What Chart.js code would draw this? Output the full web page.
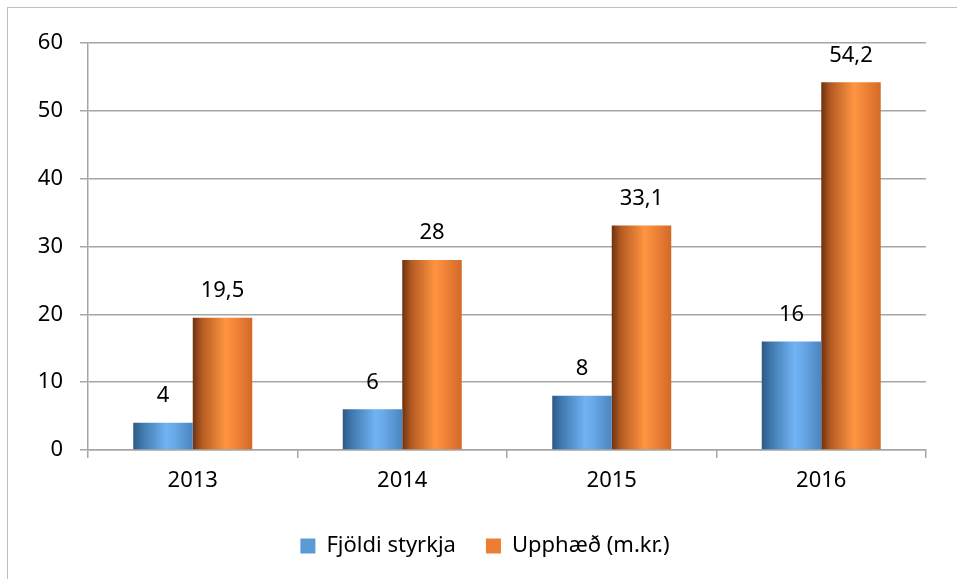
<!DOCTYPE html>
<html>
<head>
<meta charset="utf-8">
<script src="https://cdn.jsdelivr.net/npm/chart.js@4.4.1/dist/chart.umd.min.js"></script>
<style>
    html, body { margin: 0; padding: 0; background: #fff; }
    #wrap { width: 957px; height: 579px; position: relative; }
</style>
</head>
<body>
<div id="wrap"><canvas id="chart"></canvas></div>
<script>
const years = ['2013', '2014', '2015', '2016'];
const fjoldi = [4, 6, 8, 16];
const upphaed = [19.5, 28, 33.1, 54.2];
const yTicks = [0, 10, 20, 30, 40, 50, 60];

const fontFamily = '"Noto Sans", sans-serif';
const gridColor = '#a6a6a6';

// gradient stops for the "cylinder" look of the bars
const shades = [
    ['#2b5985', '#4078ae', '#70b3f3', '#68a8e6', '#4a85bf'],
    ['#6e3110', '#b35a22', '#ff9441', '#f2863a', '#d26a27']
];

const barShading = {
    id: 'barShading',
    beforeDatasetsDraw(chart) {
        const ctx = chart.ctx;
        chart.data.datasets.forEach((ds, di) => {
            const meta = chart.getDatasetMeta(di);
            meta.data.forEach(bar => {
                const x0 = bar.x - bar.width / 2;
                const g = ctx.createLinearGradient(x0, 0, x0 + bar.width, 0);
                const s = shades[di];
                g.addColorStop(0, s[0]);
                g.addColorStop(0.15, s[1]);
                g.addColorStop(0.55, s[2]);
                g.addColorStop(0.7, s[3]);
                g.addColorStop(1, s[4]);
                // options are shared between bars, so give each bar its own copy
                bar.options = Object.assign({}, bar.options, { backgroundColor: g });
            });
        });
    }
};

const valueLabels = {
    id: 'valueLabels',
    afterDatasetsDraw(chart) {
        const ctx = chart.ctx;
        ctx.save();
        ctx.font = '22px ' + fontFamily;
        ctx.fillStyle = '#000';
        ctx.textAlign = 'center';
        ctx.textBaseline = 'middle';
        chart.data.datasets.forEach((ds, di) => {
            chart.getDatasetMeta(di).data.forEach((bar, i) => {
                const txt = String(ds.data[i]).replace('.', ',');
                ctx.fillText(txt, bar.x, bar.y - 27);
            });
        });
        ctx.restore();
    }
};

const frame = {
    id: 'frame',
    beforeDraw(chart) {
        const ctx = chart.ctx;
        ctx.save();
        ctx.strokeStyle = '#bfbfbf';
        ctx.lineWidth = 1;
        ctx.strokeRect(7.5, 7.5, 1000, 1000);
        ctx.restore();
    },
    afterLayout(chart) {
        // nudge legend to where it sits in the original
        const lg = chart.legend;
        lg.left += 22; lg.right += 22;
        lg.top -= 12; lg.bottom -= 12;
    }
};

new Chart(document.getElementById('chart'), {
    type: 'bar',
    data: {
        labels: years,
        datasets: [{
            label: 'Fjöldi styrkja',
            data: fjoldi,
            backgroundColor: '#5b9bd5',
            categoryPercentage: 0.568,
            barPercentage: 1
        }, {
            label: 'Upphæð (m.kr.)',
            data: upphaed,
            backgroundColor: '#ed7d31',
            categoryPercentage: 0.568,
            barPercentage: 1
        }]
    },
    options: {
        responsive: true,
        maintainAspectRatio: false,
        animation: false,
        layout: { padding: { top: 43, right: 31, left: 0, bottom: 0 } },
        plugins: {
            legend: {
                position: 'bottom',
                labels: {
                    boxWidth: 15,
                    boxHeight: 15,
                    padding: 30,
                    color: '#000',
                    font: { family: fontFamily, size: 22 }
                }
            },
            tooltip: { enabled: false }
        },
        scales: {
            x: {
                afterFit: s => { s.height = 67; },
                grid: {
                    offset: true,
                    drawOnChartArea: false,
                    color: gridColor,
                    lineWidth: 1.5,
                    tickLength: 8
                },
                border: { color: gridColor, width: 1.5 },
                ticks: {
                    padding: 10,
                    color: '#000',
                    font: { family: fontFamily, size: 22 }
                }
            },
            y: {
                min: 0,
                max: 60,
                afterFit: s => { s.width = 88; },
                afterBuildTicks: s => { s.ticks = yTicks.map(v => ({ value: v })); },
                grid: {
                    color: gridColor,
                    lineWidth: 1.5,
                    tickLength: 8
                },
                border: { color: gridColor, width: 1.5 },
                ticks: {
                    padding: 17,
                    color: '#000',
                    font: { family: fontFamily, size: 22 }
                }
            }
        }
    },
    plugins: [frame, barShading, valueLabels]
});
</script>
</body>
</html>
